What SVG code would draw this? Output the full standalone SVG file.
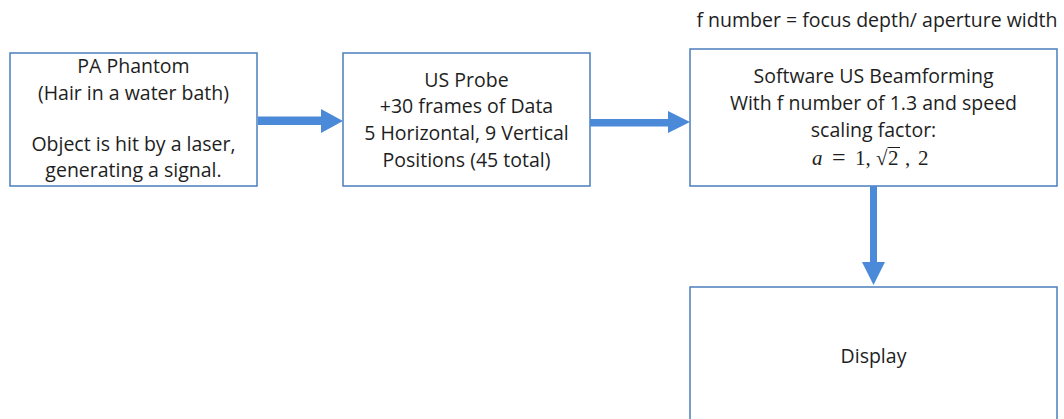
<svg xmlns="http://www.w3.org/2000/svg" width="1064" height="419" viewBox="0 0 1064 419">
  <style>
    .box { fill: #ffffff; stroke: #4a7ebb; stroke-width: 1.5; }
    .lbl { font-family: "Open Sans", "Liberation Sans", Arial, sans-serif; font-size: 19.5px; fill: #1e1e1e; text-anchor: middle; }
    .math { font-family: "Liberation Serif", "Times New Roman", serif; font-size: 21px; fill: #1e1e1e; }
    .arrow { fill: #4a8ad8; }
  </style>
  <rect width="1064" height="419" fill="#ffffff"/>

  <text class="lbl" x="877" y="27">f number = focus depth/ aperture width</text>

  <g id="node-phantom">
    <rect class="box" x="10" y="53" width="247" height="133"/>
    <text class="lbl" x="133.5" y="73">PA Phantom</text>
    <text class="lbl" x="133.5" y="100">(Hair in a water bath)</text>
    <text class="lbl" x="133.5" y="151">Object is hit by a laser,</text>
    <text class="lbl" x="133.5" y="177">generating a signal.</text>
  </g>

  <g id="node-probe">
    <rect class="box" x="343" y="53" width="247" height="133"/>
    <text class="lbl" x="466.5" y="87">US Probe</text>
    <text class="lbl" x="466.5" y="113">+30 frames of Data</text>
    <text class="lbl" x="466.5" y="140">5 Horizontal, 9 Vertical</text>
    <text class="lbl" x="466.5" y="167">Positions (45 total)</text>
  </g>

  <g id="node-beamforming">
    <rect class="box" x="690" y="49" width="367" height="137"/>
    <text class="lbl" x="873.5" y="83">Software US Beamforming</text>
    <text class="lbl" x="873.5" y="110">With f number of 1.3 and speed</text>
    <text class="lbl" x="873.5" y="137">scaling factor:</text>
    <!-- a = 1, sqrt(2), 2 set glyph by glyph -->
    <text class="math" y="165"><tspan x="812" font-style="italic">a</tspan><tspan x="832" font-size="24">=</tspan><tspan x="855">1,</tspan><tspan x="876">√</tspan><tspan x="888">2</tspan><tspan x="905">,</tspan><tspan x="918">2</tspan></text>
    <line x1="887.5" y1="147.5" x2="900" y2="147.5" stroke="#1e1e1e" stroke-width="1"/>
  </g>

  <g id="node-display">
    <rect class="box" x="690" y="287" width="367" height="140"/>
    <text class="lbl" x="873.5" y="363">Display</text>
  </g>

  <g id="connectors">
    <polygon class="arrow" points="258,116.5 321,116.5 321,109 343,121 321,133 321,125 258,125"/>
    <polygon class="arrow" points="590,119 668,119 668,111 690,122 668,133 668,126.5 590,126.5"/>
    <polygon class="arrow" points="870,186 877,186 877,262 885,262 873.5,285 862,262 870,262"/>
  </g>
</svg>
